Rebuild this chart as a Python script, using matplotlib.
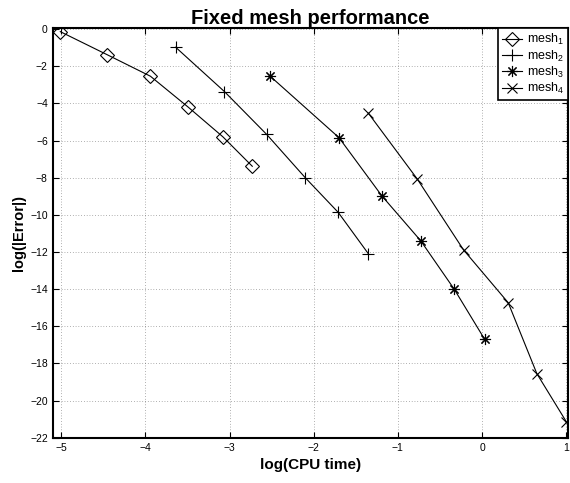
import matplotlib
matplotlib.use('Agg')
import matplotlib.pyplot as plt

plt.rcParams['font.family'] = ['Liberation Sans', 'DejaVu Sans']
plt.rcParams['mathtext.fontset'] = 'custom'
plt.rcParams['mathtext.rm'] = 'Liberation Sans'
plt.rcParams['mathtext.it'] = 'Liberation Sans'

# log(CPU time), log(|Error|) for each mesh
mesh1_x = [-5.01, -4.45, -3.94, -3.49, -3.08, -2.73]
mesh1_y = [-0.13, -1.38, -2.53, -4.20, -5.79, -7.38]
mesh2_x = [-3.64, -3.06, -2.56, -2.10, -1.71, -1.35]
mesh2_y = [-0.97, -3.36, -5.66, -8.00, -9.86, -12.10]
mesh3_x = [-2.52, -1.70, -1.19, -0.73, -0.33, 0.03]
mesh3_y = [-2.52, -5.84, -8.98, -11.39, -14.01, -16.70]
mesh4_x = [-1.35, -0.77, -0.22, 0.31, 0.65, 1.00]
mesh4_y = [-4.53, -8.07, -11.89, -14.73, -18.55, -21.14]

labels = ['mesh$_1$', 'mesh$_2$', 'mesh$_3$', 'mesh$_4$']
markers = ['D', '+', (8, 2, 0), 'x']
sizes = [7.5, 8.5, 8, 7.5]

fig = plt.figure(figsize=(5.7, 4.83), dpi=100)
ax = fig.add_axes([0.0925, 0.0938, 0.904, 0.8476])

series = [(mesh1_x, mesh1_y), (mesh2_x, mesh2_y), (mesh3_x, mesh3_y), (mesh4_x, mesh4_y)]
for (xs, ys), lab, mk, ms in zip(series, labels, markers, sizes):
    ax.plot(xs, ys, color='black', linewidth=0.8, marker=mk, markersize=ms,
            markerfacecolor='none', markeredgecolor='black', markeredgewidth=0.8,
            label=lab)

ax.set_xlim(-5.1, 1.02)
ax.set_ylim(-22, 0.05)
ax.set_xticks([-5, -4, -3, -2, -1, 0, 1])
ax.set_yticks(range(-22, 1, 2))
ax.set_xticklabels(['\u22125', '\u22124', '\u22123', '\u22122', '\u22121', '0', '1'])
ax.set_yticklabels(['\u2212%d' % abs(v) if v < 0 else '0' for v in range(-22, 1, 2)])
ax.tick_params(direction='in', top=True, right=True, labelsize=7.5, length=4, width=0.8)
ax.grid(True, linestyle=(0, (1, 3)), color='black', linewidth=0.5, alpha=0.6)
for s in ax.spines.values():
    s.set_linewidth(1.5)

ax.set_title('Fixed mesh performance', fontsize=14.5, fontweight='bold', pad=3)
ax.set_xlabel('log(CPU time)', fontsize=11, fontweight='bold', labelpad=4)
ax.set_ylabel('log(|Error|)', fontsize=10.5, fontweight='bold', labelpad=3)

leg = ax.legend(loc='upper right', fontsize=9, borderaxespad=0, handlelength=1.6,
                labelspacing=0.1, fancybox=False, framealpha=1, borderpad=0.3,
                handletextpad=0.4)
leg.get_frame().set_edgecolor('black')
leg.get_frame().set_linewidth(1.2)

fig.savefig('out.png', dpi=100)
